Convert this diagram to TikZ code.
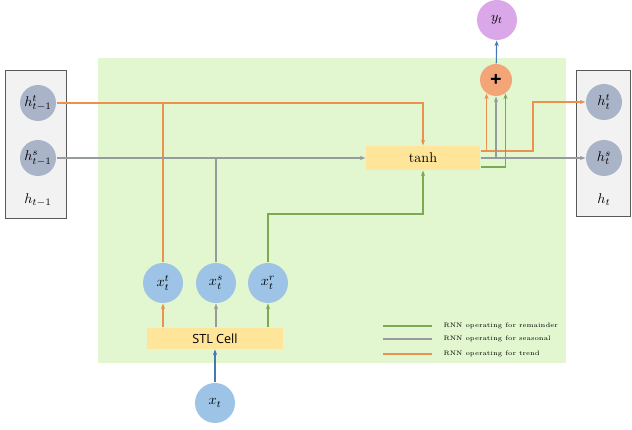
\documentclass[tikz,border=0pt]{standalone}
\usepackage{amsmath,amssymb}
\usepackage{fontspec}
\usepackage{tikz}
\usetikzlibrary{positioning, arrows.meta, calc}
\newfontfamily\cellfont{Open Sans}
\definecolor{cBg}{RGB}{226,246,208}
\definecolor{cBox}{RGB}{242,242,242}
\definecolor{cHid}{RGB}{170,180,200}
\definecolor{cIn}{RGB}{157,195,230}
\definecolor{cGate}{RGB}{255,229,153}
\definecolor{cPlus}{RGB}{244,165,120}
\definecolor{cOut}{RGB}{218,168,232}
\definecolor{cTr}{RGB}{235,145,80}
\definecolor{cSe}{RGB}{150,155,158}
\definecolor{cRe}{RGB}{125,170,80}
\definecolor{cArr}{RGB}{70,120,180}

\begin{document}
\begin{tikzpicture}[line width=0.8pt, >={Stealth[length=4pt,width=3pt]},
                    hid/.style={circle, fill=cHid, minimum size=0.9cm, inner sep=0pt},
                    inp/.style={circle, fill=cIn, minimum size=1cm, inner sep=0pt},
                    gate/.style={fill=cGate, minimum height=0.6cm, inner sep=0pt},
                    trend/.style={draw=cTr, line width=0.9pt}, seas/.style={draw=cSe, line width=0.8pt},
                    rem/.style={draw=cRe, line width=0.75pt},
                    legtxt/.style={anchor=west, font=\fontsize{4.6}{5.5}\selectfont, inner sep=0pt}]
    \useasboundingbox (0,0) rectangle (15.8,10.75);

    % Panels
    \fill[cBg] (2.45,1.675) rectangle (14.15,9.3);
    \draw[fill=cBox, draw=black!65, line width=0.6pt] (0.125,5.3) rectangle (1.65,9.0);
    \draw[fill=cBox, draw=black!65, line width=0.6pt] (14.4,5.35) rectangle (15.75,9.0);

    % Node Placements
    \node[hid] (hT1) at (0.95,8.175) {$h^{t}_{t-1}$};
    \node[hid] (hS1) at (0.95,6.8)   {$h^{s}_{t-1}$};
    \node (hP) at (0.95,5.75) {$h_{t-1}$};
    \node[hid] (hT) at (15.1,8.2) {$h^{t}_{t}$};
    \node[hid] (hS) at (15.1,6.8) {$h^{s}_{t}$};
    \node (hN) at (15.1,5.75) {$h_{t}$};

    \node[circle, fill=cOut, minimum size=1cm] (yt) at (12.425,10.25) {$y_t$};
    \node[circle, fill=cPlus, minimum size=0.8cm, inner sep=0pt, font=\cellfont\bfseries\Large] (plus) at (12.4,8.75) {+};
    \node[gate, minimum width=2.85cm] (tanh) at (10.575,6.8) {tanh};
    \node[gate, minimum width=3.4cm, minimum height=0.525cm, font=\cellfont\small] (stl) at (5.375,2.29) {STL Cell};

    \node[inp] (xT) at (4.075,3.675) {$x^{t}_{t}$};
    \node[inp] (xS) at (5.4,3.675)   {$x^{s}_{t}$};
    \node[inp] (xR) at (6.7,3.675)   {$x^{r}_{t}$};
    \node[inp] (xt) at (5.375,0.675) {$x_t$};

    \coordinate (gBend) at (6.7,5.4);
    \coordinate (tBend) at (13.325,8.2);

    % Inputs into the cell
    \draw[->, cArr] (xt) -- (stl);
    \draw[->, trend] (stl.north -| xT) -- (xT);
    \draw[->, seas]  (stl.north -| xS) -- (xS);
    \draw[->, rem]   (stl.north -| xR) -- (xR);

    % Trend, seasonal and remainder paths
    \draw[->, trend] (hT1) -| (tanh);
    \draw[trend] (xT) -- (xT |- hT1);
    \draw[->, seas] (hS1) -- (tanh);
    \draw[seas] (xS) -- (xS |- hS1);
    \draw[->, rem] (xR) -- (gBend) -| (tanh);

    % Outputs
    \draw[->, trend] ([yshift=0.175cm]tanh.east) -| (tBend) -- (hT);
    \draw[->, trend] ([yshift=0.175cm]tanh.east) -| (plus.235);
    \draw[->, seas] (tanh.east) -- (hS);
    \draw[->, seas] (tanh.east) -| (plus.south);
    \draw[->, rem] ([yshift=-0.225cm]tanh.east) -| (plus.305);
    \draw[->, cArr] (plus) -- (yt);

    % Legend
    \node[legtxt] (legR) at (11.075,2.6)   {RNN operating for remainder};
    \node[legtxt] (legS) at (11.075,2.275) {RNN operating for seasonal};
    \node[legtxt] (legT) at (11.075,1.9)   {RNN operating for trend};
    \draw[rem] ([xshift=-0.275cm]legR.west) -- ++(-1.225,0);
    \draw[seas] ([xshift=-0.275cm]legS.west) -- ++(-1.225,0);
    \draw[trend, line width=1.2pt] ([xshift=-0.275cm]legT.west) -- ++(-1.225,0);
\end{tikzpicture}
\end{document}
